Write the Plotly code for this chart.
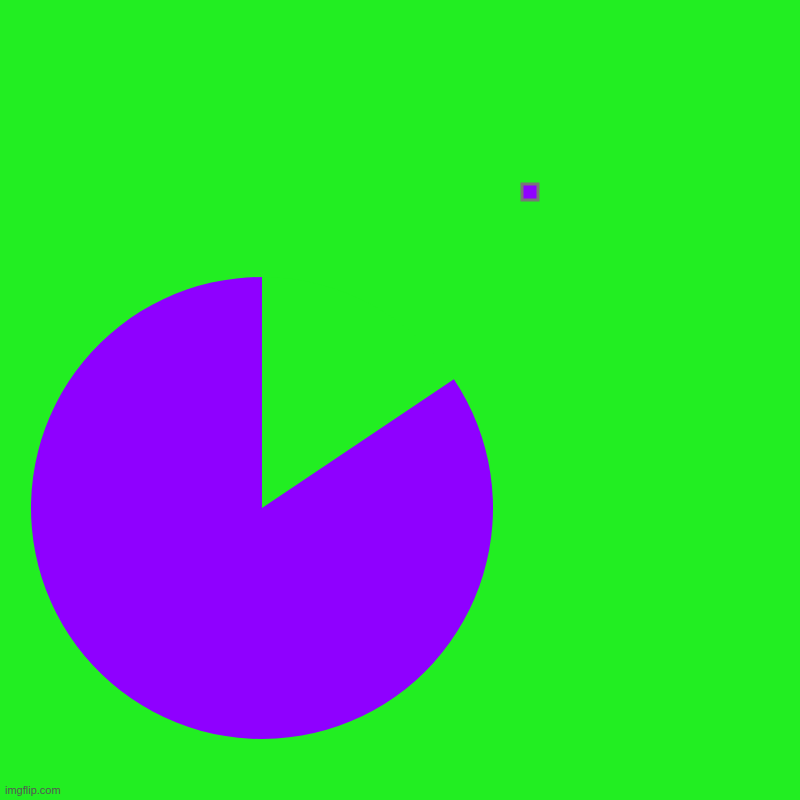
import plotly.graph_objects as go

# Slice data
labels = ["", " "]
values = [15.6, 84.4]
slice_colors = ["#22ee22", "#8f00ff"]

bg_color = "#22ee22"

fig = go.Figure()

# Pie: gap slice has the same colour as the background
fig.add_trace(go.Pie(
    labels=labels,
    values=values,
    sort=False,
    direction="clockwise",
    rotation=0,
    marker=dict(colors=slice_colors, line=dict(width=0)),
    textinfo="none",
    hoverinfo="none",
    showlegend=False,
    domain=dict(x=[0.03875, 0.61625], y=[0.07625, 0.65375]),
))

# Legend entry (purple swatch, no text)
fig.add_trace(go.Scatter(
    x=[None], y=[None],
    mode="markers",
    name="",
    marker=dict(symbol="square", size=16, color=slice_colors[1],
                line=dict(color="#777777", width=3)),
    showlegend=True,
))

fig.update_layout(
    width=800, height=800,
    paper_bgcolor=bg_color,
    plot_bgcolor=bg_color,
    margin=dict(l=0, r=0, t=0, b=0),
    showlegend=True,
    legend=dict(x=0.6375, y=0.76, xanchor="left", yanchor="middle",
                bgcolor="rgba(0,0,0,0)", font=dict(size=12)),
    xaxis=dict(visible=False),
    yaxis=dict(visible=False),
    annotations=[dict(text="imgflip.com", x=0.004, y=0.002, xref="paper", yref="paper",
                      xanchor="left", yanchor="bottom", showarrow=False,
                      font=dict(family="Liberation Sans, Arial", size=11, color="#555555"))],
)

# page body margin off so the figure fills the window
fig.write_html("out.html", config={"displayModeBar": False},
               post_script="document.body.style.margin='0';")
